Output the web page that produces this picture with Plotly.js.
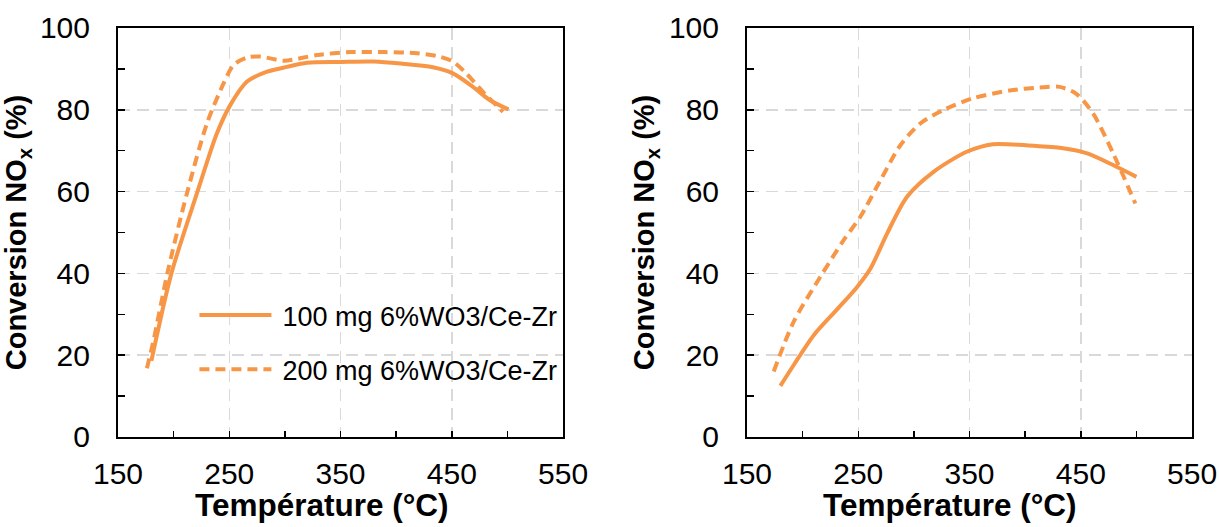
<!DOCTYPE html>
<html><head><meta charset="utf-8">
<script src="https://cdn.plot.ly/plotly-3.0.1.min.js"></script>
<style>html,body{margin:0;padding:0;background:#fff}#chart{width:1219px;height:527px}</style>
</head><body><div id="chart"></div>
<script>
// Left panel (A)
const leftT100 = [180, 198, 221, 239, 251, 266, 284, 302, 320, 350, 380, 404, 433, 451, 469, 484, 501];
const leftY100 = [18.6, 40, 59.6, 74.3, 81.2, 86.9, 89.3, 90.5, 91.5, 91.7, 91.8, 91.3, 90.4, 88.9, 85.6, 82.4, 80.1];
const leftT200 = [176, 182, 195, 212, 230, 245, 254, 266, 278, 299, 329, 359, 389, 419, 439, 451, 463, 478, 496];
const leftY200 = [16.8, 23.7, 40.8, 59.6, 76.7, 86.5, 91.0, 92.8, 93.0, 92.0, 93.4, 94.1, 94.1, 93.8, 93.0, 91.8, 88.9, 84.4, 79.5];
// Right panel (B)
const rightT100 = [180, 192, 210, 231, 249, 261, 276, 294, 318, 348, 371, 401, 431, 455, 479, 500];
const rightY100 = [12.5, 17.6, 24.9, 31.2, 36.7, 41.2, 49.8, 58.8, 64.9, 69.8, 71.6, 71.3, 70.7, 69.4, 66.5, 63.6];
const rightT200 = [174, 192, 216, 237, 252, 270, 288, 306, 327, 353, 386, 416, 431, 446, 461, 479, 499];
const rightY200 = [16.0, 28.2, 39.2, 48.2, 53.9, 62.8, 71.4, 76.7, 80.0, 82.8, 84.7, 85.5, 85.6, 83.9, 79.1, 69.4, 57.1];

const seriesNames = ['100 mg 6%WO3/Ce-Zr', '200 mg 6%WO3/Ce-Zr'];
const xTitle = 'Température (°C)';
const yTitle = 'Conversion NO<sub>x</sub> (%)';

const orange = 'rgb(247,150,70)';
const lineSolid = {color: orange, width: 4, shape: 'spline', smoothing: 0.8};
const lineDash = {color: orange, width: 4, shape: 'spline', smoothing: 0.8, dash: '10px,6px'};

const traces = [
  {x: leftT100, y: leftY100, mode: 'lines', name: seriesNames[0], line: lineSolid, xaxis: 'x', yaxis: 'y', legendgroup: 'a'},
  {x: leftT200, y: leftY200, mode: 'lines', name: seriesNames[1], line: lineDash, xaxis: 'x', yaxis: 'y', legendgroup: 'b'},
  {x: rightT100, y: rightY100, mode: 'lines', name: seriesNames[0], line: lineSolid, xaxis: 'x2', yaxis: 'y2', showlegend: false},
  {x: rightT200, y: rightY200, mode: 'lines', name: seriesNames[1], line: lineDash, xaxis: 'x2', yaxis: 'y2', showlegend: false}
];

const fontFam = 'Liberation Sans, Arial, sans-serif';
function xax(domain, anchor) {
  return {
    domain: domain, anchor: anchor, range: [150, 550], tick0: 150, dtick: 100,
    ticks: 'inside', ticklen: 6, tickwidth: 1.5, tickcolor: '#000',
    minor: {dtick: 50, tick0: 150, ticks: 'inside', ticklen: 6, tickwidth: 1.5, tickcolor: '#000', showgrid: false},
    showline: true, linecolor: '#000', linewidth: 2, mirror: true,
    showgrid: true, gridcolor: '#d9d9d9', gridwidth: 1.5, griddash: '12px,7px',
    zeroline: false, tickfont: {family: fontFam, size: 30, color: '#000'},
    ticklabelstandoff: 9
  };
}
function yax(anchor) {
  return {
    domain: [0.1708, 0.9469], anchor: anchor, range: [0, 100], tick0: 0, dtick: 20,
    ticks: 'inside', ticklen: 7, tickwidth: 1.5, tickcolor: '#000',
    minor: {dtick: 10, ticks: 'inside', ticklen: 7, tickwidth: 1.5, tickcolor: '#000', showgrid: false},
    showline: true, linecolor: '#000', linewidth: 2, mirror: true,
    showgrid: true, gridcolor: '#d9d9d9', gridwidth: 1.5, griddash: '12px,7px',
    zeroline: false, tickfont: {family: fontFam, size: 30, color: '#000'},
    ticklabelstandoff: 20,
    title: {text: yTitle, font: {family: fontFam, size: 29, color: '#000', weight: 'bold'}, standoff: 6}
  };
}
const titleFont = {family: fontFam, size: 31.5, color: '#000', weight: 'bold'};

const layout = {
  width: 1219, height: 527,
  margin: {l: 0, r: 0, t: 0, b: 0},
  paper_bgcolor: '#fff', plot_bgcolor: '#fff',
  showlegend: true,
  xaxis: xax([0.0968, 0.4619], 'y'),
  yaxis: yax('x'),
  xaxis2: xax([0.6128, 0.9779], 'y2'),
  yaxis2: yax('x2'),
  annotations: [
    {text: xTitle, xref: 'paper', yref: 'paper', x: 0.2642, y: 0.004, xanchor: 'center', yanchor: 'bottom', showarrow: false, font: titleFont},
    {text: xTitle, xref: 'paper', yref: 'paper', x: 0.7793, y: 0.004, xanchor: 'center', yanchor: 'bottom', showarrow: false, font: titleFont}
  ],
  legend: {
    x: 0.1595, y: 0.4478, xanchor: 'left', yanchor: 'top',
    bgcolor: 'rgba(0,0,0,0)', borderwidth: 0,
    font: {family: fontFam, size: 27, color: '#000'},
    itemwidth: 78, tracegroupgap: 16, traceorder: 'grouped'
  }
};

Plotly.newPlot('chart', traces, layout, {staticPlot: true}).then(function () {
  document.querySelectorAll('.legendlines path').forEach(function (p) { p.setAttribute('d', 'M5,0h72'); });
});
</script>
</body></html>
